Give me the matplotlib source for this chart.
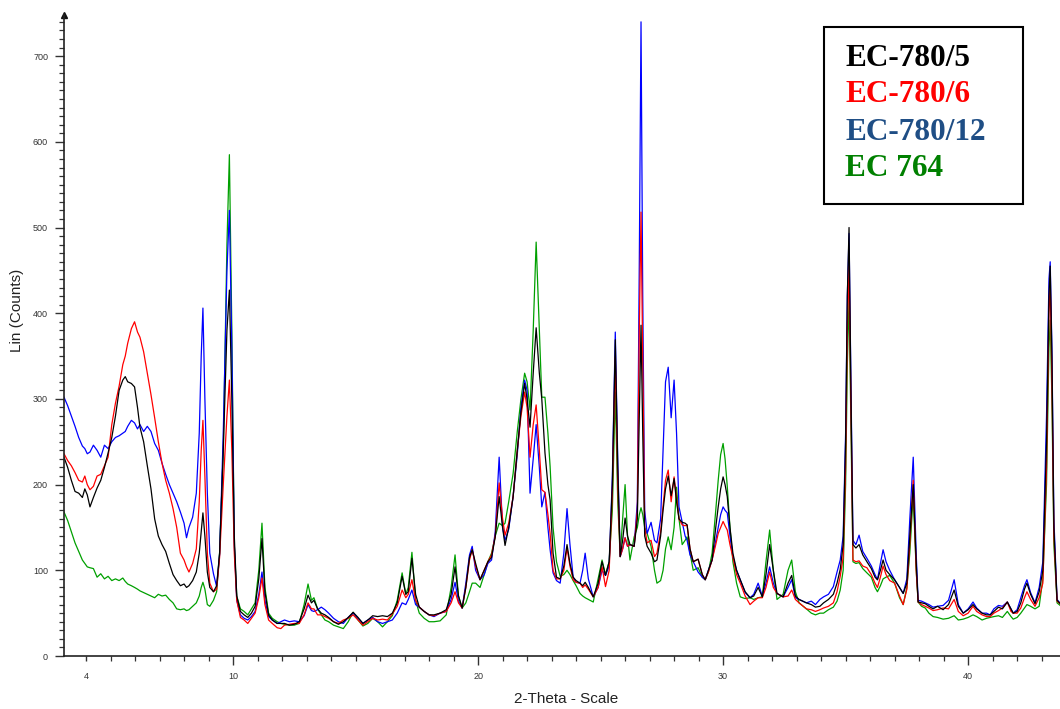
import numpy as np
import matplotlib
matplotlib.use('Agg')
import matplotlib.pyplot as plt
from matplotlib.ticker import MultipleLocator, FixedLocator
from matplotlib.patches import Rectangle

# 2-Theta positions (degrees) shared by every pattern
two_theta = [
    3.10, 3.25, 3.40, 3.55, 3.70, 3.85, 3.95, 4.05, 4.16, 4.30, 4.45, 4.60, 4.75, 4.90, 5.05, 5.20,
    5.35, 5.50, 5.60, 5.70, 5.85, 5.98, 6.10, 6.20, 6.35, 6.50, 6.65, 6.80, 6.95, 7.10, 7.25, 7.40,
    7.55, 7.70, 7.85, 8.00, 8.10, 8.20, 8.35, 8.50, 8.62, 8.70, 8.77, 8.85, 8.95, 9.05, 9.20, 9.33,
    9.45, 9.60, 9.75, 9.85, 9.95, 10.05, 10.15, 10.30, 10.45, 10.60, 10.75, 10.90, 11.05, 11.18, 11.30, 11.45,
    11.60, 11.80, 11.95, 12.10, 12.30, 12.50, 12.70, 12.90, 13.06, 13.20, 13.30, 13.45, 13.60, 13.75, 13.90, 14.10,
    14.30, 14.50, 14.70, 14.90, 15.10, 15.30, 15.50, 15.70, 15.90, 16.10, 16.30, 16.50, 16.70, 16.90, 17.05, 17.15,
    17.30, 17.45, 17.60, 17.80, 18.00, 18.20, 18.45, 18.70, 18.90, 19.06, 19.20, 19.35, 19.50, 19.65, 19.76, 19.90,
    20.08, 20.25, 20.40, 20.55, 20.70, 20.86, 21.00, 21.10, 21.25, 21.43, 21.60, 21.75, 21.90, 22.00, 22.12, 22.25,
    22.37, 22.50, 22.60, 22.73, 22.85, 22.94, 23.06, 23.20, 23.35, 23.50, 23.63, 23.75, 23.88, 24.00, 24.16, 24.27,
    24.37, 24.50, 24.70, 24.90, 25.06, 25.20, 25.35, 25.48, 25.60, 25.70, 25.80, 25.90, 26.00, 26.10, 26.20, 26.37,
    26.50, 26.58, 26.65, 26.72, 26.80, 26.90, 27.06, 27.20, 27.30, 27.45, 27.55, 27.65, 27.76, 27.88, 28.00, 28.10,
    28.20, 28.33, 28.45, 28.53, 28.65, 28.78, 28.98, 29.15, 29.27, 29.40, 29.55, 29.70, 29.80, 29.90, 30.00, 30.08,
    30.17, 30.28, 30.40, 30.55, 30.70, 30.90, 31.10, 31.25, 31.43, 31.60, 31.75, 31.90, 32.05, 32.20, 32.45, 32.65,
    32.80, 32.95, 33.10, 33.40, 33.60, 33.77, 33.95, 34.10, 34.30, 34.50, 34.65, 34.78, 34.90, 35.00, 35.07, 35.14,
    35.22, 35.30, 35.42, 35.55, 35.70, 35.87, 36.05, 36.20, 36.30, 36.42, 36.53, 36.65, 36.80, 37.00, 37.20, 37.35,
    37.50, 37.62, 37.76, 37.88, 37.96, 38.10, 38.25, 38.40, 38.57, 38.75, 38.98, 39.20, 39.43, 39.60, 39.80, 40.00,
    40.20, 40.35, 40.57, 40.75, 40.90, 41.05, 41.24, 41.40, 41.60, 41.75, 41.84, 42.00, 42.15, 42.30, 42.40, 42.55,
    42.73, 42.90, 43.05, 43.20, 43.30, 43.35, 43.42, 43.50, 43.63, 43.80,
]

# Lin (Counts) for each sample
ec780_5 = [
    232, 220, 205, 192, 190, 185, 195, 188, 174, 185, 196, 205, 220, 237, 255, 280,
    310, 322, 326, 320, 318, 314, 290, 267, 250, 222, 195, 160, 140, 130, 122, 108,
    95, 88, 82, 84, 80, 82, 88, 98, 120, 145, 167, 140, 98, 80, 75, 82,
    120, 240, 380, 427, 300, 140, 70, 52, 48, 45, 50, 58, 90, 137, 75, 48,
    42, 38, 38, 38, 36, 37, 40, 55, 71, 62, 65, 55, 50, 48, 45, 40,
    37, 40, 45, 51, 45, 38, 42, 47, 46, 47, 46, 50, 62, 93, 72, 75,
    114, 72, 57, 52, 48, 48, 50, 54, 72, 104, 70, 56, 80, 115, 124, 108,
    89, 100, 110, 115, 139, 186, 150, 129, 150, 186, 240, 285, 318, 300, 267, 330,
    383, 330, 300, 237, 200, 182, 120, 92, 90, 105, 130, 108, 92, 88, 85, 82,
    86, 80, 69, 85, 110, 94, 110, 200, 369, 220, 116, 135, 161, 140, 130, 128,
    160, 280, 386, 260, 140, 128, 120, 110, 112, 140, 170, 195, 210, 187, 207, 180,
    160, 156, 155, 153, 125, 110, 113, 95, 89, 100, 112, 150, 174, 195, 209, 200,
    186, 150, 120, 100, 89, 75, 68, 70, 80, 69, 95, 130, 100, 73, 69, 85,
    94, 70, 66, 62, 60, 57, 58, 62, 66, 72, 85, 101, 130, 250, 420, 500,
    300, 130, 126, 130, 118, 110, 102, 92, 89, 100, 112, 100, 95, 89, 80, 73,
    85, 140, 200, 110, 63, 62, 61, 58, 55, 58, 54, 60, 77, 58, 50, 54,
    60, 55, 50, 48, 48, 52, 57, 55, 63, 55, 50, 52, 62, 78, 85, 72,
    61, 75, 100, 250, 420, 455, 350, 150, 65, 60,
]
ec780_6 = [
    236, 228, 222, 214, 205, 203, 210, 200, 194, 198, 210, 212, 222, 232, 270, 295,
    315, 340, 350, 365, 382, 390, 378, 372, 355, 330, 305, 278, 250, 225, 205, 190,
    172, 150, 120, 112, 104, 98, 108, 125, 180, 240, 275, 210, 120, 85, 75, 78,
    115, 200, 280, 322, 240, 120, 65, 45, 42, 38, 44, 50, 68, 91, 60, 42,
    38, 33, 32, 36, 37, 38, 38, 48, 62, 55, 55, 48, 48, 46, 44, 40,
    38, 42, 44, 48, 42, 36, 40, 44, 42, 43, 42, 49, 58, 77, 68, 72,
    89, 65, 57, 52, 48, 47, 50, 52, 62, 75, 62, 56, 80, 112, 124, 105,
    89, 100, 110, 118, 140, 202, 160, 141, 155, 186, 240, 280, 308, 290, 232, 270,
    293, 240, 194, 191, 165, 143, 100, 90, 90, 100, 126, 105, 89, 86, 85, 80,
    83, 78, 69, 80, 104, 81, 100, 190, 349, 200, 116, 125, 138, 128, 130, 128,
    170, 380, 518, 350, 150, 132, 135, 116, 120, 145, 175, 205, 217, 180, 209, 185,
    160, 153, 152, 153, 125, 110, 113, 95, 89, 98, 112, 130, 143, 150, 157, 152,
    147, 130, 115, 95, 85, 70, 60, 64, 68, 68, 80, 98, 80, 73, 69, 70,
    77, 66, 62, 55, 54, 52, 54, 56, 58, 62, 75, 93, 115, 220, 380, 455,
    280, 112, 110, 111, 105, 103, 95, 85, 80, 92, 105, 95, 88, 85, 70, 60,
    78, 130, 205, 100, 63, 60, 58, 56, 53, 54, 56, 55, 66, 52, 47, 50,
    58, 52, 48, 46, 46, 50, 53, 56, 63, 52, 50, 50, 56, 68, 75, 66,
    58, 68, 85, 220, 400, 435, 320, 140, 64, 60,
]
ec780_12 = [
    302, 292, 280, 268, 255, 245, 242, 236, 238, 246, 240, 232, 246, 242, 250, 255,
    257, 260, 262, 268, 275, 272, 265, 270, 262, 268, 262, 248, 240, 225, 212, 200,
    190, 180, 168, 155, 138, 150, 162, 190, 260, 350, 406, 300, 190, 120, 96, 81,
    118, 260, 450, 520, 360, 130, 65, 48, 44, 42, 46, 52, 72, 98, 65, 46,
    42, 38, 40, 42, 40, 41, 40, 47, 60, 53, 52, 54, 57, 54, 50, 44,
    40, 38, 45, 50, 44, 38, 42, 45, 40, 38, 40, 42, 50, 62, 60, 66,
    77, 60, 57, 52, 48, 46, 50, 52, 66, 86, 64, 56, 85, 118, 128, 100,
    89, 95, 108, 112, 145, 232, 150, 135, 148, 186, 235, 290, 322, 310, 190, 230,
    270, 220, 174, 191, 150, 124, 97, 88, 85, 120, 172, 130, 92, 86, 85, 100,
    120, 90, 69, 80, 100, 94, 105, 210, 378, 230, 116, 125, 138, 128, 130, 128,
    180, 460, 740, 420, 170, 143, 156, 135, 132, 160, 240, 320, 337, 278, 322, 260,
    174, 156, 140, 135, 118, 110, 98, 92, 89, 100, 112, 135, 151, 165, 174, 170,
    167, 140, 116, 100, 89, 74, 68, 72, 85, 70, 85, 104, 85, 73, 69, 80,
    89, 68, 66, 62, 64, 60, 66, 69, 72, 81, 98, 112, 140, 260, 420, 493,
    310, 135, 130, 141, 122, 114, 105, 95, 89, 108, 124, 110, 100, 89, 80, 73,
    90, 160, 232, 120, 65, 64, 62, 60, 57, 58, 59, 65, 89, 60, 50, 55,
    63, 56, 50, 50, 48, 55, 59, 58, 63, 55, 50, 54, 68, 82, 89, 74,
    62, 80, 110, 280, 440, 460, 360, 160, 66, 60,
]
ec764 = [
    168, 158, 145, 132, 122, 112, 108, 104, 103, 102, 92, 96, 90, 93, 88, 90,
    88, 91, 87, 84, 82, 80, 78, 76, 74, 72, 70, 68, 72, 70, 71, 66,
    62, 55, 54, 55, 53, 54, 58, 62, 70, 80, 86, 78, 60, 58, 65, 75,
    120, 240, 480, 585, 380, 130, 70, 55, 52, 48, 55, 62, 100, 155, 80, 50,
    44, 40, 38, 37, 36, 36, 38, 60, 84, 65, 68, 55, 48, 42, 40, 36,
    34, 32, 40, 51, 42, 35, 38, 44, 40, 34, 40, 47, 65, 97, 72, 80,
    121, 65, 50, 44, 40, 40, 41, 48, 80, 118, 70, 56, 62, 75, 85, 85,
    80, 95, 110, 120, 140, 155, 152, 155, 180, 213, 262, 300, 330, 320, 287, 380,
    483, 380, 302, 302, 260, 221, 150, 110, 93, 95, 100, 95, 88, 82, 73, 70,
    68, 66, 63, 90, 112, 95, 110, 170, 308, 180, 116, 160, 200, 140, 112, 139,
    150, 165, 173, 165, 150, 143, 128, 100, 85, 88, 100, 125, 139, 124, 150, 197,
    160, 130, 135, 139, 120, 100, 103, 92, 89, 98, 120, 170, 205, 235, 248, 230,
    198, 150, 110, 85, 69, 67, 68, 66, 68, 69, 110, 147, 100, 66, 72, 100,
    112, 75, 62, 55, 50, 48, 50, 50, 54, 57, 64, 77, 100, 200, 340, 418,
    260, 110, 108, 109, 102, 97, 92, 80, 75, 82, 90, 92, 94, 85, 68, 60,
    80, 120, 188, 100, 63, 58, 56, 50, 46, 45, 43, 44, 47, 42, 43, 45,
    48, 46, 42, 44, 45, 46, 47, 45, 52, 46, 43, 45, 50, 56, 60, 58,
    55, 58, 90, 200, 360, 392, 300, 130, 62, 58,
]

series = [
    ('EC-780/5', ec780_5, 'black', 'black'),
    ('EC-780/6', ec780_6, '#ff0000', '#ff0000'),
    ('EC-780/12', ec780_12, '#0000ff', '#1f4e85'),
    ('EC 764', ec764, '#00a000', '#008000'),
]

fig = plt.figure(figsize=(10.6, 7.09), dpi=100)
ax = fig.add_axes([64 / 1060, 1 - 656 / 709, 996 / 1060, 641 / 709])

# green first so black ends up on top like the original overlay
for name, vals, line_col, _ in reversed(series):
    ax.plot(two_theta, vals, color=line_col, lw=0.9)

ax.set_xlim(3.1, 43.75)
ax.set_ylim(0, 748)

for side in ['top', 'right']:
    ax.spines[side].set_visible(False)
for side in ['left', 'bottom']:
    ax.spines[side].set_color('#222222')
    ax.spines[side].set_linewidth(1.2)

ax.xaxis.set_major_locator(FixedLocator([4, 10, 20, 30, 40]))
ax.xaxis.set_minor_locator(MultipleLocator(1))
ax.yaxis.set_major_locator(MultipleLocator(100))
ax.yaxis.set_minor_locator(MultipleLocator(10))
ax.tick_params(which='major', direction='out', length=6.5, width=1.0, color='#333333',
               labelsize=6.5, labelcolor='#333333', pad=5)
ax.tick_params(which='minor', direction='out', length=3.5, width=0.9, color='#333333')
ax.get_xaxis().get_major_ticks()[0].tick1line.set_markersize(3.5)
for lab in ax.get_xticklabels() + ax.get_yticklabels():
    lab.set_fontfamily('Liberation Sans')

ax.set_xlabel('2-Theta - Scale', fontsize=11, family='Liberation Sans', color='#222222')
ax.set_ylabel('Lin (Counts)', fontsize=11, family='Liberation Sans', color='#222222')
ax.xaxis.set_label_coords((566 - 64) / 996, -(692 - 656) / 641)
ax.yaxis.set_label_coords(-(64 - 24) / 996, (656 - 310) / 641)

# arrow head on top of the y axis
ax.plot([3.1], [748], marker='^', color='#111111', ms=5, clip_on=False)

# sample key box
fig.add_artist(Rectangle((824 / 1060, 1 - 204 / 709), 199 / 1060, 177 / 709,
                         transform=fig.transFigure, fill=False, ec='black', lw=1.5))
for i, (name, _, _, text_col) in enumerate(series):
    fig.text(845 / 1060, 1 - (58 + 37 * i) / 709, name, color=text_col,
             fontsize=22.5, fontweight='bold', family='Liberation Serif', va='center')

fig.savefig('out.png', dpi=100)
